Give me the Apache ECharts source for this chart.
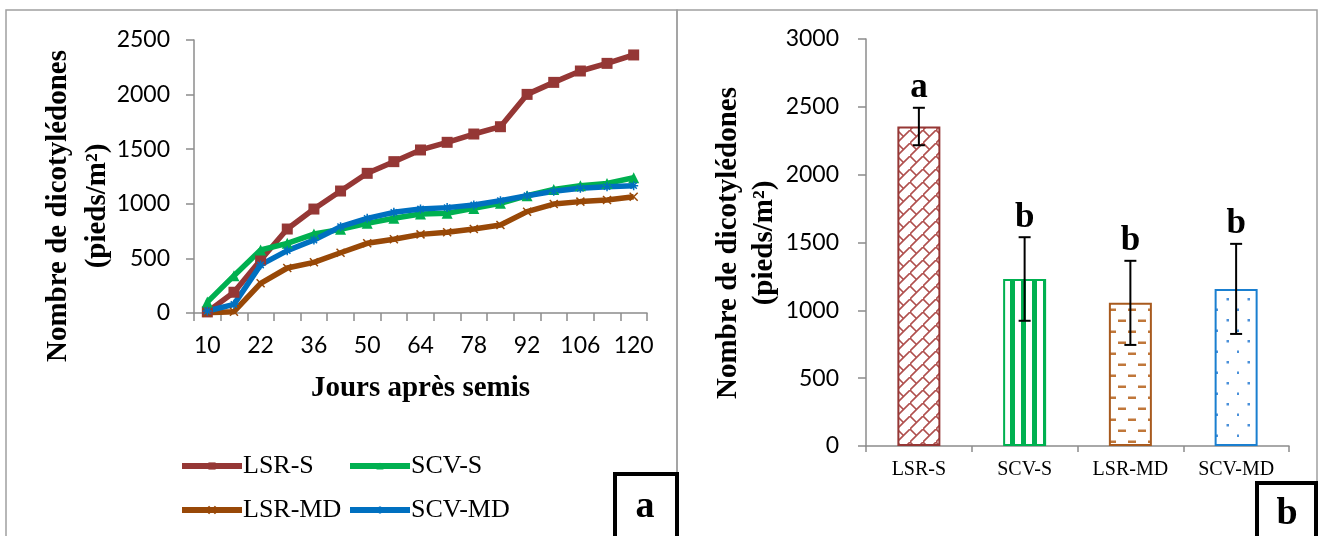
<!DOCTYPE html>
<html>
<head>
<meta charset="utf-8">
<script src="https://cdn.jsdelivr.net/npm/echarts@6/dist/echarts.min.js"></script>
<style>
html,body{margin:0;padding:0;background:#fff;}
#chart{width:1322px;height:536px;}
</style>
</head>
<body>
<div id="chart"></div>
<script>
// ---------- DATA ----------
const days = ['10','16','22','29','36','43','50','57','64','71','78','85','92','99','106','113','120'];
const lsrS  = [10, 190, 485, 769, 952, 1117, 1279, 1386, 1493, 1563, 1639, 1706, 2002, 2112, 2216, 2286, 2363];
const scvS  = [100, 342, 577, 638, 723, 766, 821, 867, 907, 913, 958, 1004, 1074, 1132, 1166, 1187, 1239];
const lsrMD = [3, 12, 272, 412, 464, 552, 638, 675, 720, 739, 769, 806, 928, 998, 1020, 1035, 1065];
const scvMD = [18, 79, 440, 571, 668, 790, 867, 922, 952, 965, 989, 1029, 1074, 1114, 1142, 1157, 1166];

const treatments = ['LSR-S', 'SCV-S', 'LSR-MD', 'SCV-MD'];
const barMeans   = [2355, 1231, 1055, 1158];
const barErrors  = [138, 308, 310, 332];
const sigLetters = ['a', 'b', 'b', 'b'];

const yTicksLeft  = {min: 0, max: 2500, interval: 500};
const yTicksRight = {min: 0, max: 3000, interval: 500};

// ---------- STYLES ----------
const C_RED = '#953735', C_GREEN = '#00B050', C_BROWN = '#984807', C_BLUE = '#0070C0';
const SERIF = '"Liberation Serif", "Times New Roman", serif';
const SANS = 'Lato, "Liberation Sans", sans-serif';
const AXIS_GREY = '#8C8C8C';
const plain = v => String(v);

function makeCanvas(w, h, draw) {
  const c = document.createElement('canvas');
  c.width = w; c.height = h;
  const ctx = c.getContext('2d');
  ctx.fillStyle = '#fff'; ctx.fillRect(0, 0, w, h);
  draw(ctx);
  return c;
}
const brick = makeCanvas(13, 13, ctx => {
  ctx.strokeStyle = '#B0504E'; ctx.lineWidth = 1.6;
  ctx.beginPath();
  ctx.moveTo(-1, 14); ctx.lineTo(14, -1);
  ctx.moveTo(0, 0); ctx.lineTo(6.5, 6.5);
  ctx.stroke();
});
const stripes = makeCanvas(11, 11, ctx => {
  ctx.fillStyle = C_GREEN;
  ctx.fillRect(9, 0, 2, 11); ctx.fillRect(0, 0, 3, 11);
});
const dashes = makeCanvas(20, 22, ctx => {
  ctx.fillStyle = '#C0773A';
  ctx.fillRect(8, 0.5, 8, 2.5);
  ctx.fillRect(18, 11.5, 2, 2.5); ctx.fillRect(0, 11.5, 6, 2.5);
});
const dots = makeCanvas(21, 21, ctx => {
  ctx.fillStyle = '#4A90D9';
  ctx.fillRect(8.5, 4, 2.5, 2.5);
  ctx.fillRect(19, 14.5, 2, 2.5);
});
const barFills   = [brick, stripes, dashes, dots];
const barBorders = [C_RED, C_GREEN, '#A85A1E', '#1A7FD0'];

const chart = echarts.init(document.getElementById('chart'), null, {renderer: 'canvas'});

const lineCommon = {
  type: 'line', xAxisIndex: 0, yAxisIndex: 0, smooth: false, symbolSize: 10
};
const symX = 'path://M0,0L10,10M10,0L0,10';
const symStar = 'path://M0,5L10,5M5,0L5,10M1.5,1.5L8.5,8.5M8.5,1.5L1.5,8.5';
const LW = 5.5;

const legendCommon = {
  orient: 'vertical', top: 447, itemGap: 16, itemWidth: 60, itemHeight: 9,
  lineStyle: {width: 6},
  textStyle: {fontFamily: SERIF, fontSize: 26, color: '#000', lineHeight: 28, padding: [0, 0, 0, -4]}
};

const option = {
  backgroundColor: '#fff',
  animation: false,
  grid: [
    {left: 194, top: 40, width: 453, height: 273, containLabel: false},
    {left: 866, top: 39, width: 423, height: 407, containLabel: false}
  ],
  legend: [
    Object.assign({data: ['LSR-S', 'LSR-MD'], left: 174}, legendCommon),
    Object.assign({data: ['SCV-S', 'SCV-MD'], left: 342}, legendCommon)
  ],
  xAxis: [
    {type: 'category', gridIndex: 0, data: days, boundaryGap: true,
     axisLine: {lineStyle: {color: AXIS_GREY, width: 1.5}},
     axisTick: {show: true, interval: 0, length: 8, lineStyle: {color: AXIS_GREY, width: 1.5}},
     axisLabel: {interval: 1, margin: 21, fontFamily: SANS, fontSize: 23, color: '#000'},
     name: 'Jours après semis', nameLocation: 'middle', nameGap: 61,
     nameTextStyle: {fontFamily: SERIF, fontWeight: 'bold', fontSize: 29, color: '#000'}},
    {type: 'category', gridIndex: 1, data: treatments, boundaryGap: true,
     axisLine: {lineStyle: {color: AXIS_GREY, width: 1.5}},
     axisTick: {show: true, interval: 0, length: 6, lineStyle: {color: AXIS_GREY, width: 1.5}},
     axisLabel: {margin: 14, fontFamily: SERIF, fontSize: 20, color: '#000'}}
  ],
  yAxis: [
    {type: 'value', gridIndex: 0, min: yTicksLeft.min, max: yTicksLeft.max, interval: yTicksLeft.interval,
     axisLine: {show: true, lineStyle: {color: AXIS_GREY, width: 1.5}},
     axisTick: {show: true, length: 8, lineStyle: {color: AXIS_GREY, width: 1.5}},
     splitLine: {show: false},
     axisLabel: {margin: 24, fontFamily: SANS, fontSize: 23, color: '#000', formatter: plain}},
    {type: 'value', gridIndex: 1, min: yTicksRight.min, max: yTicksRight.max, interval: yTicksRight.interval,
     axisLine: {show: true, lineStyle: {color: AXIS_GREY, width: 1.5}},
     axisTick: {show: true, length: 8, lineStyle: {color: AXIS_GREY, width: 1.5}},
     splitLine: {show: false},
     axisLabel: {margin: 27, fontFamily: SANS, fontSize: 23, color: '#000', formatter: plain}}
  ],
  series: [
    Object.assign({}, lineCommon, {name: 'LSR-S', data: lsrS, symbol: 'rect', symbolSize: 11,
      itemStyle: {color: C_RED}, lineStyle: {width: LW, color: C_RED}}),
    Object.assign({}, lineCommon, {name: 'SCV-S', data: scvS, symbol: 'triangle', symbolSize: 11,
      itemStyle: {color: C_GREEN}, lineStyle: {width: LW, color: C_GREEN}}),
    Object.assign({}, lineCommon, {name: 'LSR-MD', data: lsrMD, symbol: symX, symbolSize: 8,
      itemStyle: {color: C_BROWN, borderColor: C_BROWN, borderWidth: 1.5}, lineStyle: {width: LW, color: C_BROWN}}),
    Object.assign({}, lineCommon, {name: 'SCV-MD', data: scvMD, symbol: symStar, symbolSize: 9,
      itemStyle: {color: C_BLUE, borderColor: C_BLUE, borderWidth: 1.5}, lineStyle: {width: LW, color: C_BLUE}}),
    {
      name: 'Moyenne', type: 'bar', xAxisIndex: 1, yAxisIndex: 1, barWidth: 43,
      data: barMeans.map((v, i) => ({
        value: v,
        itemStyle: {color: {image: barFills[i], repeat: 'repeat'}, borderColor: barBorders[i], borderWidth: 2}
      }))
    },
    {
      name: 'Erreur', type: 'custom', xAxisIndex: 1, yAxisIndex: 1, z: 10,
      data: barMeans.map((v, i) => [i, v, barErrors[i]]),
      renderItem: function (params, api) {
        const idx = api.value(0), m = api.value(1), e = api.value(2);
        const top = api.coord([idx, m + e]);
        const bot = api.coord([idx, m - e]);
        const x = top[0], hw = 6;
        const ls = {stroke: '#000', lineWidth: 2};
        return {
          type: 'group',
          children: [
            {type: 'line', shape: {x1: x, y1: top[1], x2: x, y2: bot[1]}, style: ls},
            {type: 'line', shape: {x1: x - hw, y1: top[1], x2: x + hw, y2: top[1]}, style: ls},
            {type: 'line', shape: {x1: x - hw, y1: bot[1], x2: x + hw, y2: bot[1]}, style: ls},
            {type: 'text', x: x, y: top[1] - 2,
             style: {text: sigLetters[params.dataIndex], fill: '#000', font: 'bold 35px ' + SERIF,
                     textAlign: 'center', textVerticalAlign: 'bottom'}}
          ]
        };
      }
    }
  ],
  graphic: [
    {type: 'rect', shape: {x: 6, y: 10, width: 671, height: 540},
     style: {fill: 'none', stroke: '#A0A0A0', lineWidth: 1.5}, z: -1},
    {type: 'rect', shape: {x: 677, y: 10, width: 640, height: 540},
     style: {fill: 'none', stroke: '#A0A0A0', lineWidth: 1.5}, z: -1},
    {type: 'text', x: 78, y: 206, rotation: Math.PI / 2,
     style: {text: 'Nombre de dicotylédones\n(pieds/m²)', font: 'bold 29px ' + SERIF, fill: '#000',
             textAlign: 'center', textVerticalAlign: 'middle', lineHeight: 39}},
    {type: 'text', x: 747, y: 243, rotation: Math.PI / 2,
     style: {text: 'Nombre de dicotylédones\n(pieds/m²)', font: 'bold 29px ' + SERIF, fill: '#000',
             textAlign: 'center', textVerticalAlign: 'middle', lineHeight: 36}},
    {type: 'rect', shape: {x: 615, y: 474, width: 62, height: 70},
     style: {fill: '#fff', stroke: '#000', lineWidth: 4}, z: 20},
    {type: 'text', x: 645, y: 507, z: 21,
     style: {text: 'a', font: 'bold 38px ' + SERIF, fill: '#000', textAlign: 'center', textVerticalAlign: 'middle'}},
    {type: 'rect', shape: {x: 1257, y: 483, width: 59, height: 60},
     style: {fill: '#fff', stroke: '#000', lineWidth: 4}, z: 20},
    {type: 'text', x: 1287, y: 514, z: 21,
     style: {text: 'b', font: 'bold 38px ' + SERIF, fill: '#000', textAlign: 'center', textVerticalAlign: 'middle'}}
  ]
};
chart.setOption(option);
</script>
</body>
</html>
